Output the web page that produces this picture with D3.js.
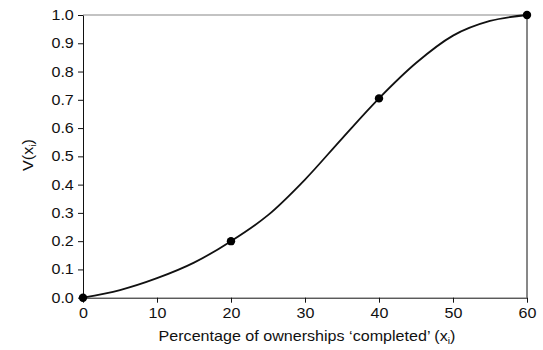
<!DOCTYPE html>
<html>
<head>
<meta charset="utf-8">
<script src="https://cdn.jsdelivr.net/npm/d3@7"></script>
<style>
  html, body { margin: 0; padding: 0; background: #fff; }
  svg { display: block; }
  text { font-family: "Liberation Sans", Arial, Helvetica, sans-serif; fill: #111; }
</style>
</head>
<body>
<svg id="chart" width="543" height="350"></svg>
<script>
// Key points (markers)
const pointX = [0, 20, 40, 60];
const pointV = [0, 0.2, 0.705, 1.0];
// Curve
const curveX = [0, 5, 10, 15, 20, 25, 30, 35, 40, 45, 50, 55, 60];
const curveV = [0, 0.027, 0.069, 0.124, 0.2, 0.292, 0.418, 0.563, 0.705, 0.83, 0.927, 0.979, 1.0];
// Ticks
const xTicks = [0, 10, 20, 30, 40, 50, 60];
const yTicks = [0, 0.1, 0.2, 0.3, 0.4, 0.5, 0.6, 0.7, 0.8, 0.9, 1.0];

const svg = d3.select("#chart");
const mLeft = 83, mRight = 527, mTop = 15, mBottom = 297.7;
const stretch = 1.15;

const x = d3.scaleLinear().domain([0, 60]).range([mLeft, mRight]);
const y = d3.scaleLinear().domain([0, 1]).range([mBottom, mTop]);

// frame: top (gray) and right
svg.append("line").attr("x1", mLeft).attr("x2", mRight).attr("y1", mTop).attr("y2", mTop)
  .attr("stroke", "#888").attr("stroke-width", 1.2);
svg.append("line").attr("x1", mRight).attr("x2", mRight).attr("y1", mTop).attr("y2", mBottom)
  .attr("stroke", "#111").attr("stroke-width", 1);

const xAxis = svg.append("g").attr("transform", `translate(0,${mBottom})`)
  .call(d3.axisBottom(x).tickValues(xTicks).tickFormat(d3.format("d")).tickSizeInner(5).tickSizeOuter(0).tickPadding(5));
const yAxis = svg.append("g").attr("transform", `translate(${mLeft},0)`)
  .call(d3.axisLeft(y).tickValues(yTicks).tickFormat(d3.format(".1f")).tickSizeInner(5).tickSizeOuter(0).tickPadding(3));

[xAxis, yAxis].forEach(g => {
  g.selectAll("path").attr("stroke", "#111").attr("stroke-width", 1);
  g.selectAll("line").attr("stroke", "#111").attr("stroke-width", 1);
  g.selectAll("text").attr("font-size", 14).attr("fill", "#111")
    .attr("transform", `scale(${stretch},1)`)
    .style("font-family", '"Liberation Sans", Arial, sans-serif');
});

// curve
const data = curveX.map((d, i) => [d, curveV[i]]);
svg.append("path").datum(data)
  .attr("fill", "none").attr("stroke", "#111").attr("stroke-width", 1.8)
  .attr("d", d3.line().x(d => x(d[0])).y(d => y(d[1])).curve(d3.curveMonotoneX));

// points
svg.selectAll("circle.pt").data(pointX.map((d, i) => [d, pointV[i]])).enter()
  .append("circle").attr("class", "pt")
  .attr("cx", d => x(d[0])).attr("cy", d => y(d[1])).attr("r", 4.2).attr("fill", "#000");

// axis labels
const xl = svg.append("text")
  .attr("transform", `translate(${(mLeft + mRight) / 2 + 2},341) scale(${stretch},1)`)
  .attr("text-anchor", "middle").attr("font-size", 14);
xl.append("tspan").text("Percentage of ownerships \u2018completed\u2019 (x");
xl.append("tspan").text("i").attr("font-size", 9).attr("dy", 3);
xl.append("tspan").text(")").attr("dy", -3);

const yl = svg.append("text").attr("transform", `translate(33,155) rotate(-90) scale(${stretch},1)`)
  .attr("text-anchor", "middle").attr("font-size", 14);
yl.append("tspan").text("V(x");
yl.append("tspan").text("i").attr("font-size", 9).attr("dy", 3);
yl.append("tspan").text(")").attr("dy", -3);
</script>
</body>
</html>
